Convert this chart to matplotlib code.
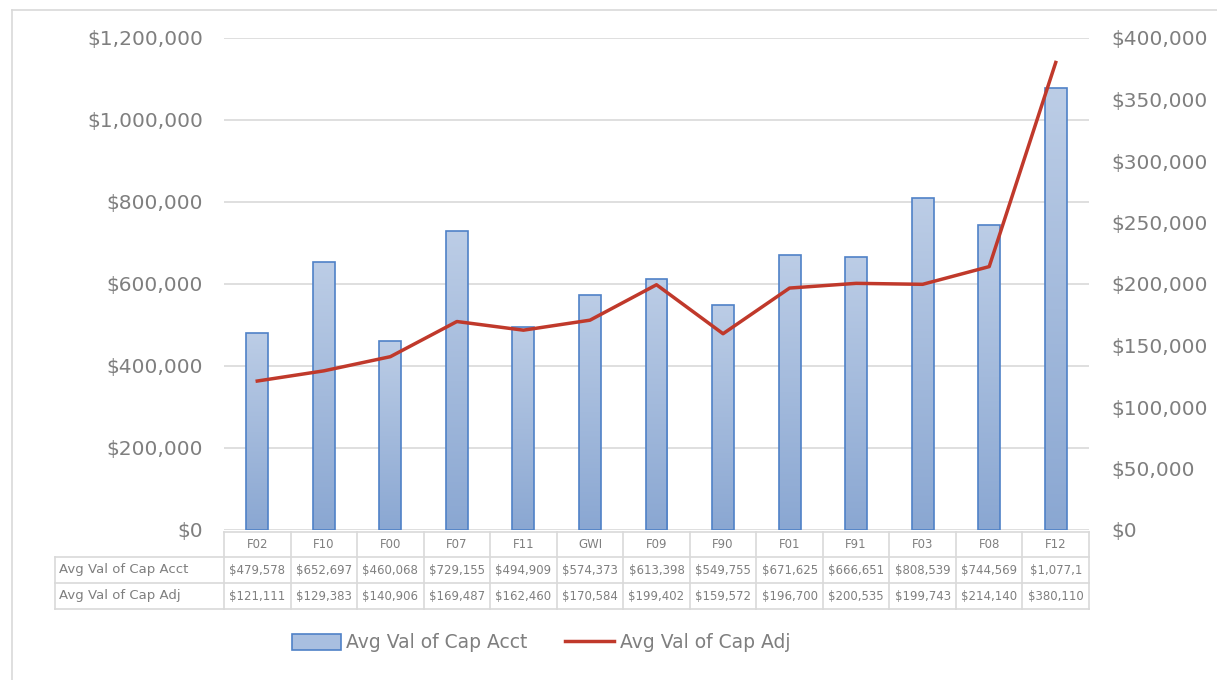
import numpy as np
import matplotlib.pyplot as plt
from matplotlib.lines import Line2D
from matplotlib.patches import Patch
from matplotlib.colors import LinearSegmentedColormap
from matplotlib.ticker import FuncFormatter

categories = ['F02', 'F10', 'F00', 'F07', 'F11', 'GWI', 'F09', 'F90', 'F01', 'F91', 'F03', 'F08', 'F12']
cap_acct = [479578, 652697, 460068, 729155, 494909, 574373, 613398, 549755, 671625, 666651, 808539, 744569, 1077100]
cap_adj = [121111, 129383, 140906, 169487, 162460, 170584, 199402, 159572, 196700, 200535, 199743, 214140, 380110]
acct_labels = ['$479,578', '$652,697', '$460,068', '$729,155', '$494,909', '$574,373', '$613,398',
               '$549,755', '$671,625', '$666,651', '$808,539', '$744,569', '$1,077,1']
adj_labels = ['$121,111', '$129,383', '$140,906', '$169,487', '$162,460', '$170,584', '$199,402',
              '$159,572', '$196,700', '$200,535', '$199,743', '$214,140', '$380,110']
row_names = ['Avg Val of Cap Acct', 'Avg Val of Cap Adj']

W, H = 1217, 680
txt = '#7f7f7f'
grid = '#d9d9d9'

fig = plt.figure(figsize=(W / 100, H / 100), dpi=100)
ax = fig.add_axes([224 / W, 1 - 530 / H, (1089 - 224) / W, (530 - 38) / H])
ax2 = ax.twinx()

x = np.arange(len(categories))

# bars with vertical gradient
bars = ax.bar(x, cap_acct, width=0.33, facecolor='none', edgecolor='#4f81c7', linewidth=1.2, zorder=3)
grad = np.linspace(0, 1, 256).reshape(-1, 1)
cmap = LinearSegmentedColormap.from_list('g', ['#8aa7d2', '#bccde6'])
for b in bars:
    x0, w, h = b.get_x(), b.get_width(), b.get_height()
    im = ax.imshow(grad, cmap=cmap, origin='lower', aspect='auto',
                   extent=[x0, x0 + w, 0, h], zorder=2)
    im.set_clip_path(b)
ax.set_xlim(-0.5, len(categories) - 0.5)
ax.set_ylim(0, 1200000)
ax2.set_ylim(0, 400000)

ax2.plot(x, cap_adj, color='#c0392b', linewidth=2.5, zorder=4)

money = FuncFormatter(lambda v, p: '${:,.0f}'.format(v))
ax.set_yticks(np.arange(0, 1200001, 200000))
ax.yaxis.set_major_formatter(money)
ax2.set_yticks(np.arange(0, 400001, 50000))
ax2.yaxis.set_major_formatter(money)
ax.grid(axis='y', color=grid, linewidth=1.2, zorder=0)
ax.set_axisbelow(True)
ax.set_xticks([])
for a in (ax, ax2):
    for s in a.spines.values():
        s.set_visible(False)
    a.tick_params(length=0, labelsize=14.5, labelcolor=txt)
ax.tick_params(axis='y', pad=15)
ax2.tick_params(axis='y', pad=16)
ax.set_zorder(ax2.get_zorder() - 1)
ax2.patch.set_visible(False)

# data table under the chart
def fx(px):
    return px / W

def fy(py):
    return 1 - py / H

rows_y = [532, 557, 583, 609]
left = 55
edges = [ax.transData.transform((i - 0.5, 0))[0] for i in range(len(categories) + 1)]
lk = dict(color=grid, linewidth=1.2, transform=fig.transFigure)
fig.add_artist(Line2D([fx(edges[0]), fx(edges[-1])], [fy(rows_y[0])] * 2, **lk))
for yy in rows_y[1:]:
    fig.add_artist(Line2D([fx(left), fx(edges[-1])], [fy(yy)] * 2, **lk))
for e in edges:
    fig.add_artist(Line2D([fx(e)] * 2, [fy(rows_y[0]), fy(rows_y[-1])], **lk))
fig.add_artist(Line2D([fx(left)] * 2, [fy(rows_y[1]), fy(rows_y[-1])], **lk))

tk = dict(ha='center', va='center', color=txt, fontsize=8.5)
for i in range(len(categories)):
    cx = fx((edges[i] + edges[i + 1]) / 2)
    fig.text(cx, fy((rows_y[0] + rows_y[1]) / 2), categories[i], **tk)
    fig.text(cx, fy((rows_y[1] + rows_y[2]) / 2), acct_labels[i], **tk)
    fig.text(cx, fy((rows_y[2] + rows_y[3]) / 2), adj_labels[i], **tk)
for r, name in enumerate(row_names):
    fig.text(fx(left + 4), fy((rows_y[r + 1] + rows_y[r + 2]) / 2), name,
             ha='left', va='center', color=txt, fontsize=9.5)

# outer border
fig.add_artist(Line2D([fx(12), 1], [fy(10)] * 2, **lk))
fig.add_artist(Line2D([fx(12)] * 2, [fy(10), 0], **lk))

handles = [Patch(facecolor='#a9bfe0', edgecolor='#4f81c7', linewidth=1.2),
           Line2D([], [], color='#c0392b', linewidth=2.5)]
fig.legend(handles, ['Avg Val of Cap Acct', 'Avg Val of Cap Adj'], loc='center',
           bbox_to_anchor=(fx(541), fy(643)), ncol=2, frameon=False, fontsize=13.5,
           labelcolor=txt, handlelength=2.6, handleheight=1.0, handletextpad=0.3,
           columnspacing=2.0)

fig.savefig('out.png', dpi=100)
